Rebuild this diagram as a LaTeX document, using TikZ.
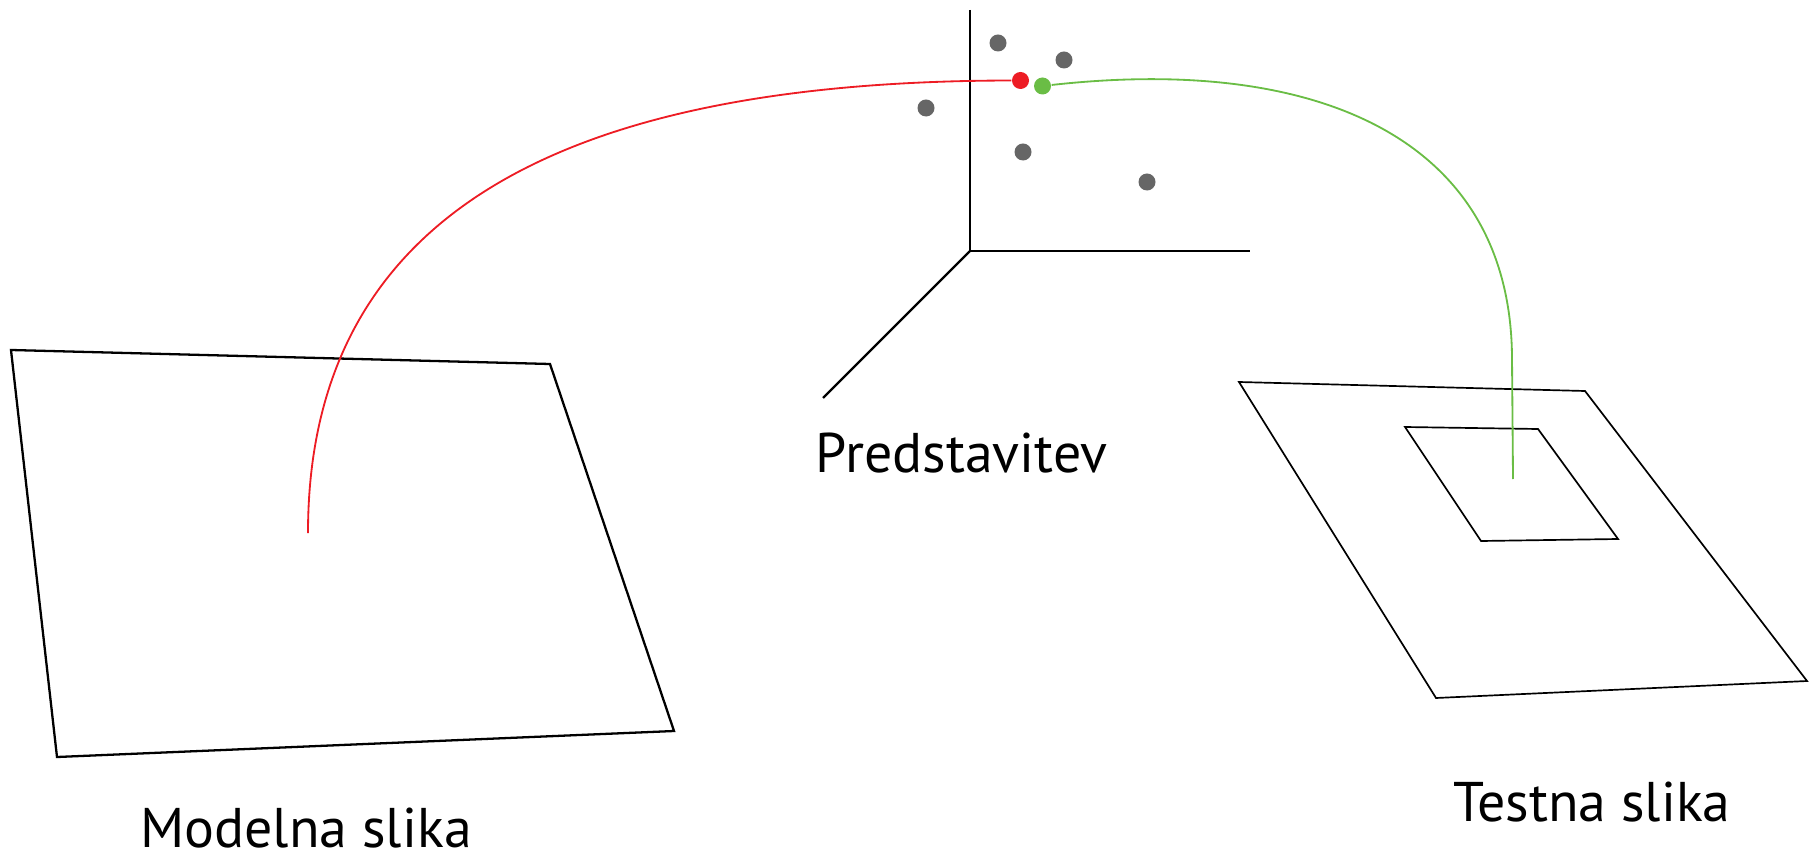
\documentclass[tikz,border=0pt]{standalone}
\usepackage{fontspec}
\setmainfont{PT Sans}

\definecolor{redpt}{RGB}{237,28,36}
\definecolor{greenpt}{RGB}{106,189,69}
\definecolor{graypt}{RGB}{102,102,102}

\begin{document}
\begin{tikzpicture}[
    x=0.01cm, y=-0.01cm,
    axis/.style={line width=0.65pt},
    frame/.style={line width=0.65pt, line join=miter},
    thinframe/.style={line width=0.48pt, line join=miter},
    point/.style={circle, inner sep=0pt, minimum size=0.17cm},
    link/.style={line width=0.52pt},
    caption/.style={anchor=base, inner sep=0pt, font=\fontsize{15.9}{19}\selectfont}
  ]
    \useasboundingbox (0,0) rectangle (1816,855);

    % Feature space axes
    \coordinate (origin) at (970,251);
    \draw[axis] (970,10) -- (origin) -- (1250,251);
    \draw[axis] (origin) -- (823,398);

    % Points in the feature space
    \node[point, fill=graypt] (p1) at (998,43) {};
    \node[point, fill=graypt] (p2) at (1064,60) {};
    \node[point, fill=graypt] (p3) at (926,108) {};
    \node[point, fill=graypt] (p4) at (1023,152) {};
    \node[point, fill=graypt] (p5) at (1147,182) {};
    \node[point, fill=redpt] (model) at (1020.5,80.5) {};
    \node[point, fill=greenpt] (test) at (1042.5,86) {};

    % Model image
    \draw[frame] (11,350) -- (550,364) -- (674,731) -- (57,757) -- cycle;
    \coordinate (modelsrc) at (308,533);

    % Test image with window
    \draw[thinframe] (1239,382) -- (1585,391) -- (1807,681) -- (1436,698) -- cycle;
    \draw[thinframe] (1405,427) -- (1538,429) -- (1618,539) -- (1481,541) -- cycle;
    \coordinate (testsrc) at (1513,479);

    % Mappings
    \draw[link, redpt] (modelsrc) .. controls (308,217) and (557,81) .. (model);
    \draw[link, greenpt] (test) .. controls (1320,55) and (1512,140) .. (1512,360) -- (testsrc);

    % Labels
    \node[caption] (space) at (961.5,472) {Predstavitev};
    \node[caption] (modellbl) at (306,847) {Modelna slika};
    \node[caption] (testlbl) at (1592,821) {Testna slika};
  \end{tikzpicture}
\end{document}
